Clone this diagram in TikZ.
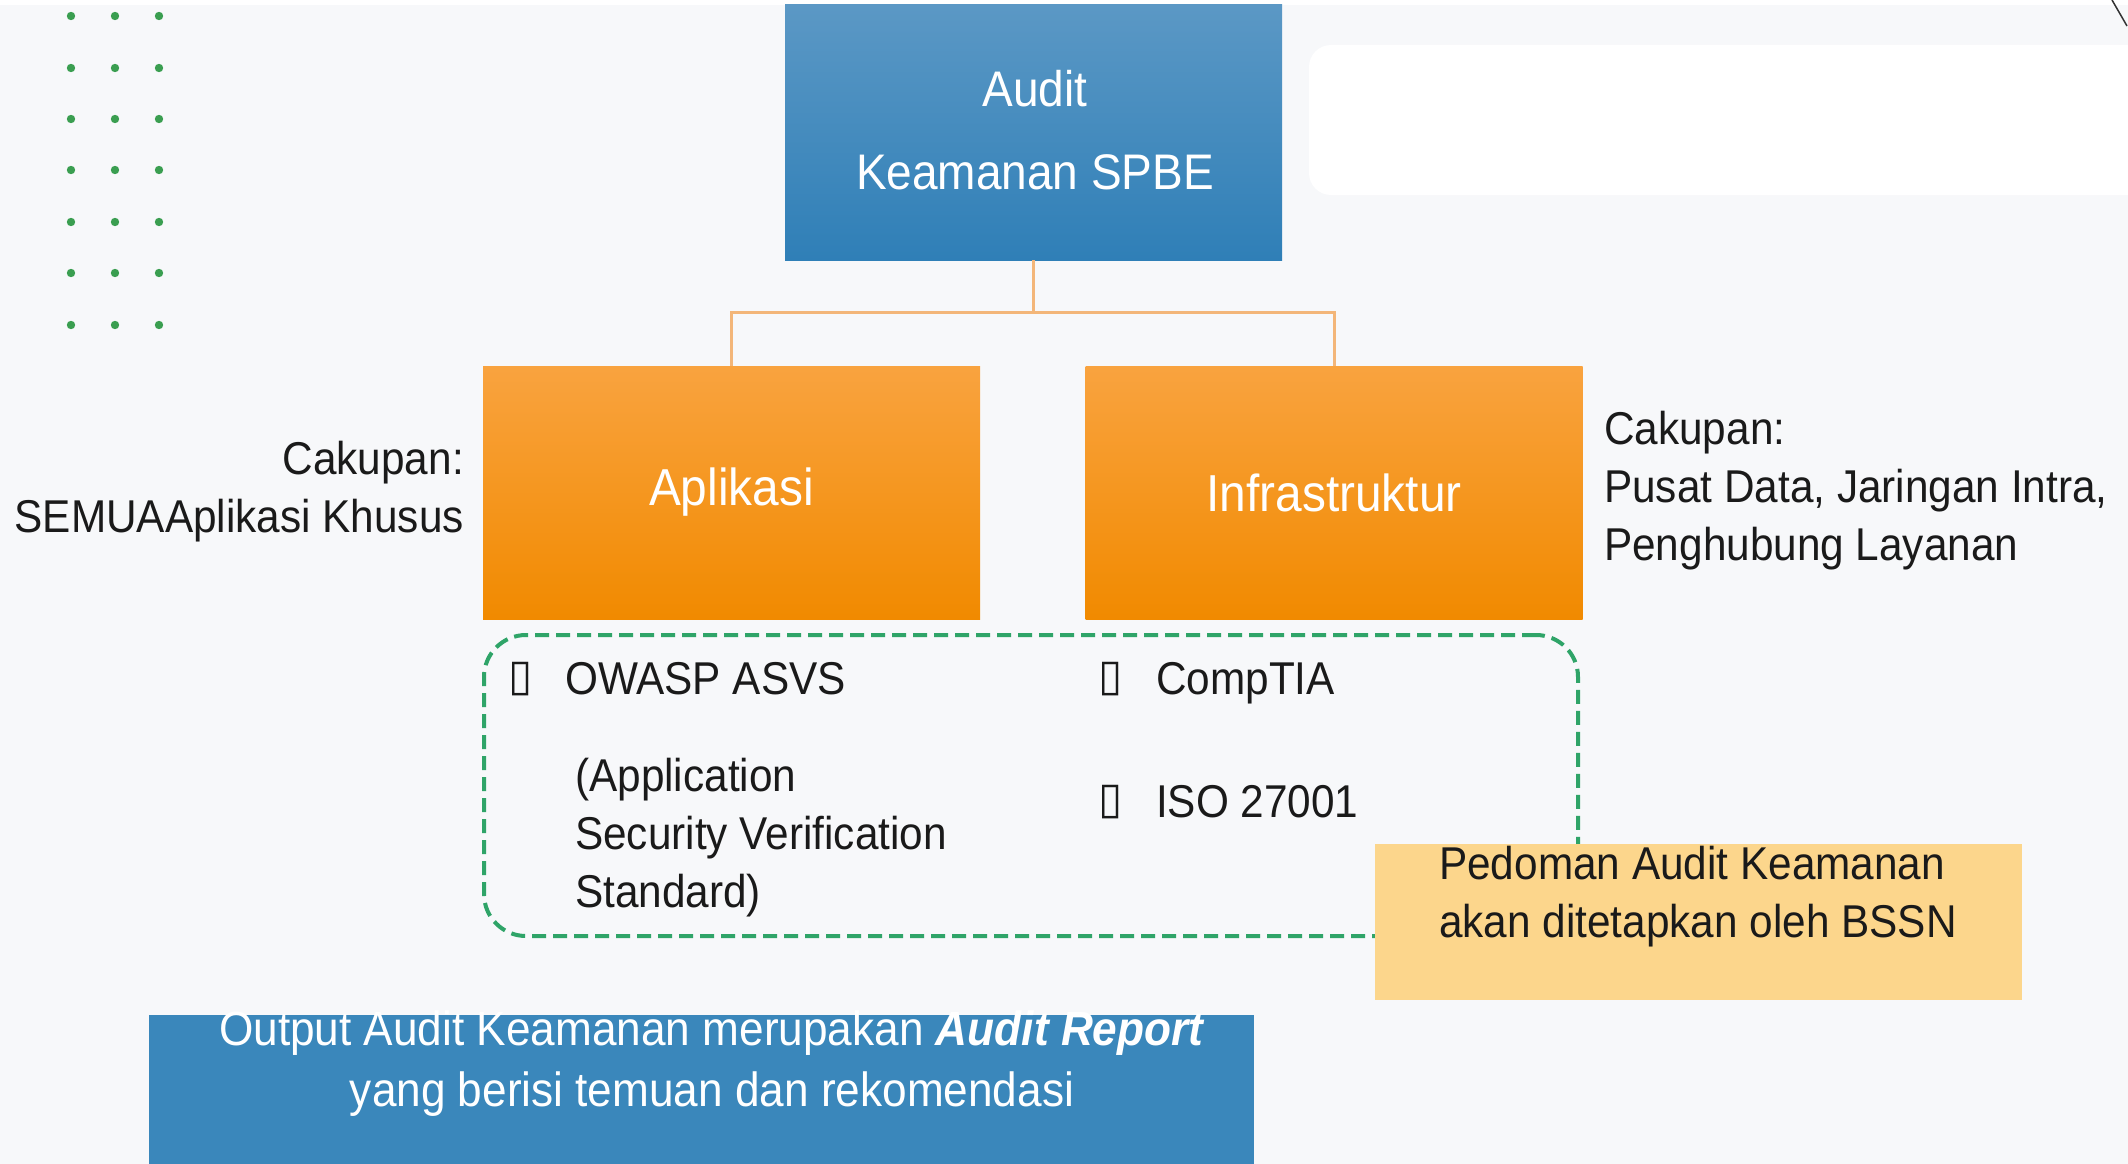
\documentclass[tikz,border=0pt]{standalone}
\usepackage{fontspec}
\setmainfont[FakeStretch=0.92]{Liberation Sans}
\newfontfamily\symf{DejaVu Sans}
\usetikzlibrary{shadings}
\definecolor{bg}{HTML}{F7F8FA}
\definecolor{bluetop}{HTML}{5B98C5}
\definecolor{bluebot}{HTML}{2F7FB7}
\definecolor{orangetop}{HTML}{F9A33F}
\definecolor{orangebot}{HTML}{F18A00}
\definecolor{outblue}{HTML}{3A87BB}
\definecolor{notey}{HTML}{FCD68C}
\definecolor{dashgreen}{HTML}{2FA468}
\definecolor{dotgreen}{HTML}{3A9E50}
\definecolor{linkor}{HTML}{F3B679}
\definecolor{txt}{HTML}{1A1A1A}
\tikzset{
  bluebox/.style={rectangle, inner sep=0pt, top color=bluetop, bottom color=bluebot, text=white, align=center},
  orangebox/.style={rectangle, inner sep=0pt, top color=orangetop, bottom color=orangebot, text=white, align=center,
    minimum width=497, minimum height=253, font=\fontsize{52}{60}\selectfont},
  plain/.style={inner sep=0pt, text=txt, font=\fontsize{46}{58}\selectfont},
  bulletmark/.style={inner sep=0pt, text=txt, font=\symf\fontsize{44}{50}\selectfont},
  link/.style={draw=linkor, line width=3pt},
  gdot/.style={fill=dotgreen},
}
\begin{document}
\begin{tikzpicture}[x=1pt,y=-1pt]
\useasboundingbox (0,0) rectangle (2128,1164);
\fill[bg] (0,0) rectangle (2128,1164);
\fill[white] (0,0) rectangle (2128,5);
% white rounded panel at top right
\fill[white] (1309,45) [rounded corners=22pt] rectangle (2160,195);
\draw[black!80, line width=1.5pt] (2112,0) -- (2127,26);
% green dots
\foreach \cx in {71,115,159}{
  \foreach \cy in {16,68,119,170,222,273,325}{
    \fill[gdot] (\cx,\cy) circle (4.2pt);
  }
}
% top box
\node[bluebox, minimum width=497, minimum height=255, font=\fontsize{50}{83}\selectfont] (top) at (1033.5,132.5) {};
\node[inner sep=0pt, text=white, align=center, font=\fontsize{50}{83}\selectfont] (toptext) at (1035,130) {Audit\\Keamanan SPBE};
% orange boxes
\node[orangebox] (apl) at (731.5,492.5) {Aplikasi};
\node[orangebox] (inf) at (1334,492.5) {Infrastruktur};
% connectors
\coordinate (mid) at (1033.5,312);
\draw[link] (top.south) -- (mid);
\draw[link] (mid) -| (apl.north);
\draw[link] (mid) -| (inf.north);
% side texts
\node[plain, align=right] (leftscope) at (464,492) [anchor=east] {Cakupan:\\SEMUAAplikasi Khusus};
\node[plain, align=left, anchor=west] (rightscope) at (1604,491) {Cakupan:\\Pusat Data, Jaringan Intra,\\Penghubung Layanan};
% dashed group
\node[draw=dashgreen, line width=4pt, dash pattern=on 14pt off 7pt, rounded corners=42pt,
  minimum width=1094, minimum height=301, inner sep=0pt] (group) at (1031,785.5) {};
% items
\node[bulletmark] (b1) at (521,679) {▯};
\node[plain, anchor=west] (owasp) at (565,679) {OWASP ASVS};
\node[plain, anchor=west, align=left] (asvs) at (575,838) {(Application\\Security Verification\\Standard)};
\node[bulletmark] (b2) at (1111,679) {▯};
\node[plain, anchor=west] (comptia) at (1156,683) {CompTIA};
\node[bulletmark] (b3) at (1111,802) {▯};
\node[plain, anchor=west] (iso) at (1156,802) {ISO 27001};
% note box
\node[fill=notey, minimum width=647, minimum height=156, inner sep=0pt] (note) at (1698.5,922) {};
\node[plain, anchor=west, align=left] (notetext) at (1439,897) {Pedoman Audit Keamanan\\akan ditetapkan oleh BSSN};
% bottom output box
\node[fill=outblue, minimum width=1105, minimum height=160, inner sep=0pt] (out) at (701.5,1095) {};
\node[inner sep=0pt, text=white, align=center, font=\fontsize{48}{61}\selectfont] (outtext) at (712,1064)
  {Output Audit Keamanan merupakan \textbf{\textit{Audit Report}}\\yang berisi temuan dan rekomendasi};
\end{tikzpicture}
\end{document}
